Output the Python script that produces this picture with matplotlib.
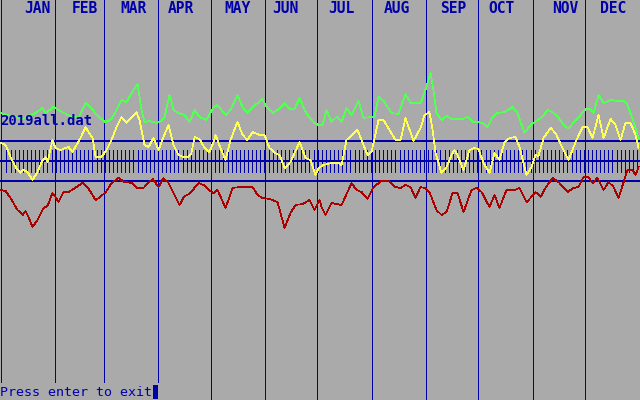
import matplotlib
matplotlib.use('Agg')
import matplotlib.pyplot as plt
from matplotlib.patches import Rectangle

# EGA style palette
BG = '#aaaaaa'
BLUE = '#0000aa'
GREEN = '#55ff55'
YELLOW = '#ffff55'
RED = '#aa0000'

title = '2019all.dat'
prompt = 'Press enter to exit'
months = ['JAN', 'FEB', 'MAR', 'APR', 'MAY', 'JUN',
          'JUL', 'AUG', 'SEP', 'OCT', 'NOV', 'DEC']
month_start = [0, 31, 59, 90, 120, 151, 181, 212, 243, 273, 304, 334]
ref_levels = [141, 161, 181]

# series, x in day of year, y in screen rows (smaller = higher)
green_day = [0, 4, 8.6, 12.6, 16, 20, 24, 25.7, 30.3, 33.1, 38.3, 44.6, 48.6, 51.4,
             55.4, 60, 63.4, 66.3, 69.1, 72, 74.9, 78.3, 80.6, 82.3, 85.1, 89.1, 92,
             93.7, 96.6, 98.9, 101.7, 105.1, 108, 110.9, 113.7, 117.7, 121.7, 124,
             128.6, 131.4, 135.4, 138.3, 141.1, 144, 146.9, 149.7, 151.4, 155.4, 158.3,
             162.3, 165.1, 168, 170.9, 173.7, 176.6, 179.4, 181.7, 184, 186.3, 189.1,
             192, 194.9, 197.7, 200.6, 204.6, 207.4, 211.4, 213.7, 216, 218.9, 223.4,
             227.4, 231.4, 234.3, 240, 243.4, 245.7, 247.4, 249.1, 252, 254.9, 257.7,
             264, 266.9, 269.7, 272.6, 275.4, 278.3, 281.1, 284, 288, 292.6, 295.4,
             299.4, 302.9, 306.9, 309.7, 312.6, 315.4, 318.9, 322.9, 324.6, 327.4,
             331.4, 334.3, 337.1, 338.9, 341.7, 344.6, 348.6, 352.6, 356, 358.3,
             361.7, 364.6]
green_val = [113, 115, 117, 119, 116, 113, 108, 113, 107, 110, 115, 118, 103, 107,
             116, 122, 119, 110, 100, 102, 93, 84, 110, 122, 121, 123, 121,
             117, 95, 110, 113, 115, 122, 110, 117, 120, 107, 105,
             115, 110, 95, 107, 113, 107, 103, 99, 105, 113, 110,
             103, 109, 109, 98, 110, 118, 123, 125, 125, 110, 122,
             117, 122, 108, 115, 101, 118, 117, 117, 97, 101, 113,
             114, 94, 103, 103, 87, 73, 90, 113, 120, 116, 119,
             119, 117, 122, 122, 123, 127, 117, 113, 112, 107, 113,
             133, 125, 120, 117, 110, 112, 118, 127, 128, 123,
             115, 109, 109, 113, 95, 103, 100, 101, 101, 105,
             122, 138]

yellow_day = [0, 2.9, 5.7, 8.6, 11.4, 13.1, 15.4, 18.3, 21.1, 24, 25.7, 26.9, 29.7,
              31.4, 34.3, 37.1, 38.9, 41.1, 45.7, 48.6, 50.3, 52.6, 54.3, 57.7, 60.6,
              63.4, 66.3, 69.1, 72, 74.9, 77.7, 79.4, 82.3, 84.6, 87.4, 90.3, 93.1, 96,
              98.9, 101.7, 104.6, 107.4, 109.1, 110.9, 113.7, 116.6, 119.4, 121.7,
              122.9, 125.7, 128.6, 131.4, 135.4, 138.3, 141.1, 144, 148, 150.9, 153.7,
              156.6, 159.4, 162.3, 165.7, 170.9, 174.3, 177.1, 180, 181.7, 184.6,
              189.1, 193.1, 194.9, 197.7, 200.6, 204, 207.4, 209.7, 212, 216, 218.9,
              225.7, 228.6, 231.4, 236, 240, 242.3, 245.1, 246.9, 248.6, 252, 254.9,
              257.7, 259.4, 261.1, 264.6, 268, 270.9, 273.1, 276, 279.4, 282.3, 285.1,
              288, 290.9, 294.3, 296.6, 300.6, 303.4, 305.7, 307.4, 310.3, 314.3,
              317.1, 321.1, 324.6, 328.6, 332.6, 335.4, 338.3, 341.7, 344.6, 348.6,
              351.4, 354.3, 357.1, 360, 362.9, 364.6]
yellow_val = [143, 145, 157, 167, 173, 170, 172, 180, 172, 160, 157, 162, 140,
              148, 150, 148, 147, 152, 138, 127, 132, 138, 157, 157, 150,
              140, 127, 117, 123, 117, 112, 120, 145, 147, 138, 150, 137, 125,
              145, 155, 157, 157, 153, 137, 139, 148, 152, 142,
              135, 148, 160, 140, 122, 135, 140, 132, 135, 135, 148,
              153, 155, 168, 162, 142, 158, 160, 175, 168, 165,
              163, 163, 165, 140, 135, 130, 145, 155, 152, 120, 120,
              140, 140, 118, 141, 128, 115, 112, 130, 153, 173, 167,
              155, 150, 155, 170, 150, 148, 149, 163, 173, 153, 160,
              142, 138, 137, 147, 175, 167, 155, 156, 138, 128,
              133, 148, 160, 142, 127, 127, 138, 115, 138, 119,
              125, 140, 123, 123, 135, 148]

red_day = [0, 2.9, 5.7, 9.7, 12.6, 14.3, 16, 18.3, 21.1, 24.6, 26.9, 29.7, 31.4,
           33.1, 36, 38.9, 41.7, 46.9, 49.7, 54.3, 57.1, 60.6, 63.4, 67.4, 70.9,
           74.9, 77.7, 81.7, 85.1, 86.9, 90.3, 93.1, 96, 98.9, 102.3, 105.1, 108,
           113.1, 116, 118.9, 121.7, 124, 128.6, 132.6, 136.6, 144, 146.9, 149.7,
           153.7, 158.3, 162.3, 165.7, 168.6, 172.6, 176.6, 179.4, 182.3, 183.4,
           185.7, 189.1, 194.9, 200.6, 203.4, 206.3, 209.7, 213.1, 217.7, 221.7,
           225.7, 228.6, 231.4, 234.3, 237.1, 240, 242.3, 245.1, 249.1, 252, 254.9,
           258.3, 261.1, 264.6, 269.1, 272, 274.9, 279.4, 282.3, 285.1, 289.1,
           293.7, 296.6, 300.6, 303.4, 305.7, 308.6, 311.4, 315.4, 318.9, 324,
           327.4, 330.3, 333.1, 336, 338.3, 341.1, 344.6, 347.4, 350.3, 353.1,
           358.3, 361.1, 362.9, 364.6]
red_val = [190, 191, 198, 210, 215, 211, 217, 227, 220, 208, 206, 193, 197,
           202, 192, 192, 189, 183, 187, 200, 197, 191, 183, 178, 182,
           183, 188, 188, 182, 179, 187, 178, 183, 193, 205, 196, 194,
           183, 185, 190, 193, 190, 208, 188, 187, 187, 195, 198,
           199, 202, 228, 213, 205, 204, 200, 210, 200, 207,
           215, 203, 205, 183, 190, 192, 199, 187, 181, 181,
           187, 188, 185, 187, 198, 187, 188, 192, 210, 215, 212,
           193, 193, 212, 190, 188, 192, 207, 195, 208, 190,
           190, 188, 202, 197, 192, 197, 188, 178, 182, 192,
           188, 187, 177, 177, 183, 178, 190, 182, 187, 198,
           170, 170, 175, 167]

DAY_PX = 1.75   # screen pixels per day
THIN = 0.5      # ~1 screen pixel when not antialiased

fig = plt.figure(figsize=(6.4, 4), dpi=100)
fig.patch.set_facecolor(BG)

ax = fig.add_axes([0, 0, 1, 1])
ax.set_facecolor(BG)
ax.set_xlim(-0.3, 640 / DAY_PX - 0.3)
ax.set_ylim(400, 0)
ax.axis('off')

ax.vlines(month_start, 0, 400, color=BLUE, lw=THIN, antialiased=False, zorder=1)
ax.hlines(ref_levels, -1, 370, color=BLUE, lw=1.3, antialiased=False, zorder=1)
tick_days = [3.4 + k * 365 / 156 for k in range(156)]
ax.vlines(tick_days, 150, 172, color=BLUE, lw=THIN, antialiased=False, zorder=1)

for d, v, c in [(red_day, red_val, RED), (yellow_day, yellow_val, YELLOW),
                (green_day, green_val, GREEN)]:
    ax.plot(d, v, color=c, lw=THIN, antialiased=False, zorder=3)

# text layer in screen pixels (8 px character cells)
scr = fig.add_axes([0, 0, 1, 1], frameon=False)
scr.set_xlim(0, 640)
scr.set_ylim(400, 0)
scr.axis('off')
font = dict(family='DejaVu Sans Mono', color=BLUE, va='baseline', ha='left')

label_cols = [3, 9, 15, 21, 28, 34, 41, 48, 55, 61, 69, 75]
for name, col in zip(months, label_cols):
    scr.text(col * 8, 13, name, size=10.5, weight='bold', **font)

scr.text(0, 125, title, size=10, weight='bold', zorder=5, **font)

scr.add_patch(Rectangle((0, 383), 160, 17, facecolor=BG, edgecolor='none', zorder=4))
scr.text(0, 396, prompt, size=9.6, zorder=5, **font)
scr.add_patch(Rectangle((153, 385), 5, 14, facecolor=BLUE, edgecolor='none', zorder=5))

fig.savefig('out.png', dpi=100, facecolor=BG)
